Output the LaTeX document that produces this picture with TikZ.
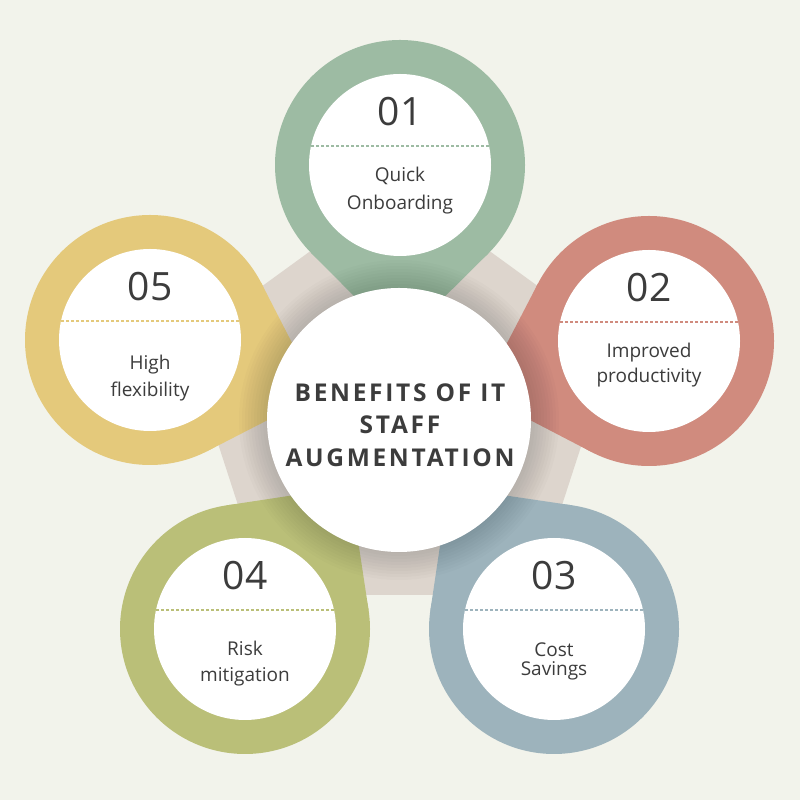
\documentclass[tikz,border=0pt]{standalone}
\usepackage{fontspec}
\setmainfont{Open Sans}
\newfontfamily\titlefont[LetterSpace=11]{Open Sans}
\usetikzlibrary{calc}
\definecolor{bg}{HTML}{F2F3EB}
\definecolor{beige}{HTML}{DDD5CD}
\definecolor{pgreen}{HTML}{9DBBA3}
\definecolor{pred}{HTML}{D08B7E}
\definecolor{pblue}{HTML}{9DB3BC}
\definecolor{polive}{HTML}{BABF78}
\definecolor{pyellow}{HTML}{E4C97B}
\definecolor{txt}{HTML}{3C3C3C}
\newcommand{\mypin}[2]{%
  \fill[#2] (#1) circle (125pt);
  \fill[#2] (#1) -- ($(#1)!125pt!45:(c)$) -- ($(#1)!176.8pt!(c)$) -- ($(#1)!125pt!-45:(c)$) -- cycle;
}
\begin{document}
\begin{tikzpicture}[x=1pt,y=1pt,
  inner/.style={circle, fill=white, minimum size=182pt, inner sep=0pt},
  numstyle/.style={anchor=base, text=txt, font=\fontsize{39}{39}\selectfont, inner sep=0pt},
  lblstyle/.style={anchor=base, text=txt, font=\fontsize{19}{19}\selectfont, inner sep=0pt},
  dashline/.style={line width=1.2pt, dash pattern=on 3pt off 2pt},
  titlestyle/.style={text=txt, align=center, font=\titlefont\bfseries\fontsize{24.5}{32.5}\selectfont, inner sep=0pt}
]
\fill[bg] (0,0) rectangle (800,800);
\useasboundingbox (0,0) rectangle (800,800);

\coordinate (c) at (399,380);
\coordinate (pc) at (400,388);
\fill[beige] ($(pc)+(90:226pt)$) -- ($(pc)+(162:226pt)$) -- ($(pc)+(234:226pt)$) -- ($(pc)+(306:226pt)$) -- ($(pc)+(18:226pt)$) -- cycle;

\coordinate (p1) at (400,635);
\coordinate (p2) at (649,459);
\coordinate (p3) at (554,171);
\coordinate (p4) at (245,171);
\coordinate (p5) at (150,460);

\mypin{p1}{pgreen}
\mypin{p2}{pred}
\mypin{p3}{pblue}
\mypin{p4}{polive}
\mypin{p5}{pyellow}

% shadow of the central circle
\foreach \r in {133,136,...,160} {\fill[black, opacity=0.014] (c) circle (\r pt);}

\node[circle, fill=white, minimum size=264pt, inner sep=0pt] (hub) at (c) {};
\node[titlestyle] (title) at (400,375) {BENEFITS OF IT\\STAFF\\AUGMENTATION};

% 01
\node[inner] (w1) at (p1) {};
\draw[dashline, pgreen] (w1.12) -- (w1.168);
\node[numstyle] (n1) at ($(p1)+(0,39)$) {01};
\node[lblstyle] (a1) at ($(p1)+(0,-17)$) {Quick};
\node[lblstyle] (b1) at ($(p1)+(0,-45)$) {Onboarding};
% 02
\node[inner] (w2) at (p2) {};
\draw[dashline, pred] (w2.12) -- (w2.168);
\node[numstyle] (n2) at ($(p2)+(0,39)$) {02};
\node[lblstyle] (a2) at ($(p2)+(0,-17)$) {Improved};
\node[lblstyle] (b2) at ($(p2)+(0,-42)$) {productivity};
% 03
\node[inner] (w3) at (p3) {};
\draw[dashline, pblue] (w3.12) -- (w3.168);
\node[numstyle] (n3) at ($(p3)+(0,39)$) {03};
\node[lblstyle] (a3) at ($(p3)+(0,-28)$) {Cost};
\node[lblstyle] (b3) at ($(p3)+(0,-47)$) {Savings};
% 04
\node[inner] (w4) at (p4) {};
\draw[dashline, polive] (w4.12) -- (w4.168);
\node[numstyle] (n4) at ($(p4)+(0,39)$) {04};
\node[lblstyle] (a4) at ($(p4)+(0,-27)$) {Risk};
\node[lblstyle] (b4) at ($(p4)+(0,-53)$) {mitigation};
% 05
\node[inner] (w5) at (p5) {};
\draw[dashline, pyellow] (w5.12) -- (w5.168);
\node[numstyle] (n5) at ($(p5)+(0,39)$) {05};
\node[lblstyle] (a5) at ($(p5)+(0,-30)$) {High};
\node[lblstyle] (b5) at ($(p5)+(0,-57)$) {flexibility};
\end{tikzpicture}
\end{document}
